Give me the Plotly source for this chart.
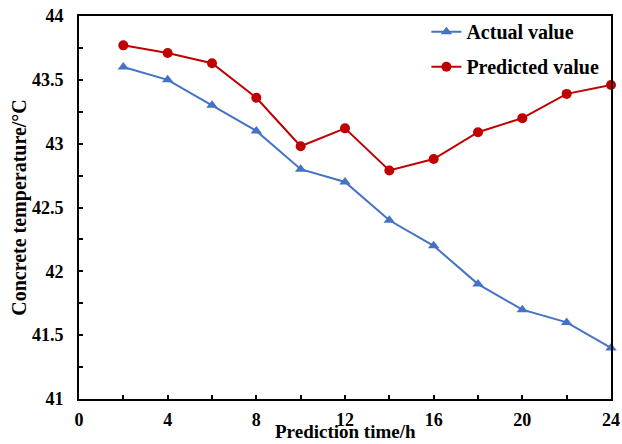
import plotly.graph_objects as go

hours = [2, 4, 6, 8, 10, 12, 14, 16, 18, 20, 22, 24]
actual = [43.6, 43.5, 43.3, 43.1, 42.8, 42.7, 42.4, 42.2, 41.9, 41.7, 41.6, 41.4]
predicted = [43.77, 43.71, 43.63, 43.36, 42.98, 43.12, 42.79, 42.88, 43.09, 43.20, 43.39, 43.46]

x_ticks = [0, 4, 8, 12, 16, 20, 24]
y_ticks = [41, 41.5, 42, 42.5, 43, 43.5, 44]
y_labels = ["41", "41.5", "42", "42.5", "43", "43.5", "44"]

font_family = "Liberation Serif, Times New Roman, serif"

fig = go.Figure()
fig.add_trace(go.Scatter(
    x=hours, y=actual, mode="lines+markers", name="<b>Actual value</b>",
    legendgroup="a",
    line=dict(color="#4472C4", width=2),
    marker=dict(symbol="triangle-up", size=10, color="#4472C4"),
    cliponaxis=False,
))
fig.add_trace(go.Scatter(
    x=hours, y=predicted, mode="lines+markers", name="<b>Predicted value</b>",
    legendgroup="p",
    line=dict(color="#C00000", width=2),
    marker=dict(symbol="circle", size=10, color="#C00000"),
    cliponaxis=False,
))

axis_common = dict(
    showgrid=False, zeroline=False, showline=True, linecolor="black", linewidth=2,
    mirror=True, ticks="inside", ticklen=4, tickwidth=2, tickcolor="black",
    tickfont=dict(family=font_family, size=18, color="black"),
    automargin=False,
)

fig.update_layout(
    width=622, height=444,
    margin=dict(l=79, r=11, t=16, b=45),
    paper_bgcolor="white", plot_bgcolor="white",
    font=dict(family=font_family, color="black"),
    xaxis=dict(
        range=[0, 24], tickvals=x_ticks, ticktext=[f"<b>{v}</b>" for v in x_ticks],
        minor=dict(ticks="inside", dtick=2, ticklen=4, tickwidth=2, tickcolor="black"),
        ticklabelstandoff=3,
        **axis_common,
    ),
    yaxis=dict(
        range=[41, 44], tickvals=y_ticks, ticktext=[f"<b>{v}</b>" for v in y_labels],
        minor=dict(ticks="inside", dtick=0.25, ticklen=4, tickwidth=2, tickcolor="black"),
        ticklabelstandoff=10,
        title=dict(text="<b>Concrete temperature/°C</b>", font=dict(family=font_family, size=20, color="black"), standoff=0),
        **axis_common,
    ),
    legend=dict(
        x=0.653, y=1.01, xanchor="left", yanchor="top",
        bgcolor="rgba(0,0,0,0)", font=dict(family=font_family, size=20, color="black"),
        tracegroupgap=6, itemwidth=30,
    ),
    annotations=[dict(
        text="<b>Prediction time/h</b>", xref="paper", yref="paper",
        x=0.5, y=-(444 - 399) / 383, xanchor="center", yanchor="bottom",
        showarrow=False, font=dict(family=font_family, size=19, color="black"),
    )],
)

fig.write_html(
    "out.html",
    config={"displayModeBar": False},
    post_script="document.body.style.margin='0';document.body.style.overflow='hidden';",
)
